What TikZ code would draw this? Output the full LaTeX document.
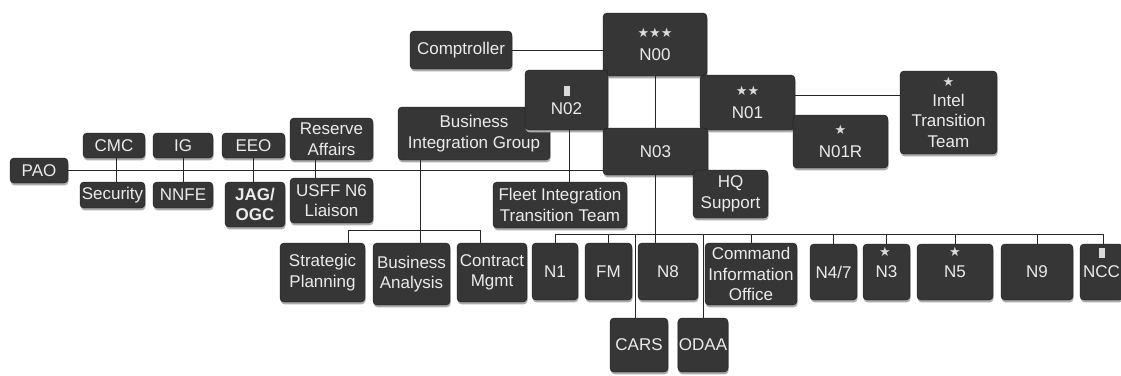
\documentclass[tikz,border=0pt]{standalone}
\usepackage{fontspec}
\setmainfont{Liberation Sans}
\newfontfamily\symfont{DejaVu Sans}
\usetikzlibrary{shadows}
\definecolor{boxfill}{HTML}{363636}
\definecolor{boxedge}{HTML}{161616}
\definecolor{boxtext}{HTML}{EBEBEB}
\definecolor{starcol}{HTML}{DADADA}
\begin{document}
\begin{tikzpicture}[x=1pt,y=-1pt,
  box/.style={draw=boxedge, fill=boxfill, rounded corners=4pt, text=boxtext,
    align=center, inner sep=1pt, font=\fontsize{17}{20.5}\selectfont,
    drop shadow={shadow xshift=0.6pt, shadow yshift=-2.4pt, fill=gray!65, opacity=1}},
  link/.style={draw=black!85, line width=0.9pt},
  starmark/.style={text=starcol, font=\symfont\fontsize{13}{13}\selectfont, inner sep=0pt},
  sz/.style 2 args={minimum width=#1pt, minimum height=#2pt}]
\fill[white] (0,0) rectangle (1121,375);
\path[use as bounding box] (0,0) rectangle (1121,375);
\newcommand{\stars}[1]{{\symfont\fontsize{13}{13}\selectfont\color{starcol}#1}}
\newcommand{\badge}{{\color{starcol}\rule{6pt}{10pt}}}
% top
\node[box, sz={102}{38}] (Comp) at (461,50) {Comptroller};
\node[box, sz={104}{63}] (N00) at (655,44.5) {\stars{★★★}\\[3pt]N00};
\node[box, sz={152}{53}] (BIG) at (474,133.5) {Business\\Integration Group};
\node[box, sz={83}{60}] (N02) at (566.5,100) {\badge\\[-2pt]N02};
\node[box, sz={95}{55}] (N01) at (747.5,102.5) {\stars{★★}\\[2pt]N01};
\node[box, sz={105}{47}] (N03) at (655.5,151.5) {N03};
\node[box, sz={95}{53}] (N01R) at (840.5,141.5) {\stars{★}\\[3pt]N01R};
\node[box, sz={97}{83}] (Intel) at (948.5,112.5) {\stars{★}\\[-1pt]Intel\\Transition\\Team};
\node[box, sz={75}{48}] (HQ) at (730.5,194) {HQ\\Support};
% left
\node[box, sz={58}{25}] (PAO) at (39,170.5) {PAO};
\node[box, sz={62}{25}] (CMC) at (114,145.5) {CMC};
\node[box, sz={65}{26}] (Sec) at (112.5,195) {Security};
\node[box, sz={60}{25}] (IG) at (183,145.5) {IG};
\node[box, sz={60}{26}] (NNFE) at (183,195) {NNFE};
\node[box, sz={63}{25}] (EEO) at (253.5,145.5) {EEO};
\node[box, sz={60}{45}] (JAG) at (255,204.5) {\textbf{JAG/}\\\textbf{OGC}};
\node[box, sz={83}{42}] (Res) at (331.5,139) {Reserve\\Affairs};
\node[box, sz={83}{45}] (USFF) at (331.5,200.5) {USFF N6\\Liaison};
\node[box, sz={134}{46}] (FITT) at (560,205) {Fleet Integration\\Transition Team};
% bottom row
\node[box, sz={85}{59}] (SP) at (322.5,272.5) {Strategic\\Planning};
\node[box, sz={77}{62}] (BA) at (411.5,274) {Business\\Analysis};
\node[box, sz={70}{59}] (CM) at (492,272.5) {Contract\\Mgmt};
\node[box, sz={46}{57}] (N1) at (555,271.5) {N1};
\node[box, sz={47}{57}] (FM) at (608.5,271.5) {FM};
\node[box, sz={60}{57}] (N8) at (668,271.5) {N8};
\node[box, sz={92}{62}] (CIO) at (751,274) {Command\\Information\\Office};
\node[box, sz={47}{56}] (N47) at (833.5,272) {N4/7};
\node[box, sz={47}{56}] (N3) at (886.5,272) {N3};
\node[box, sz={76}{56}] (N5) at (955,272) {N5};
\node[box, sz={72}{56}] (N9) at (1037,272) {N9};
\node[box, sz={43}{56}] (NCC) at (1101.5,272) {NCC};
\node[box, sz={58}{54}] (CARS) at (639,345) {CARS};
\node[box, sz={50}{54}] (ODAA) at (703,345) {ODAA};
% insignia
\node[starmark] (s3) at (885,252) {★};
\node[starmark] (s5) at (955,252) {★};
\node[inner sep=0pt] (bNCC) at (1102,253) {\badge};
% connectors
\draw[link] (Comp.east) -- (Comp.east -| N00.west);
\draw[link] (N00.south) -- (N00.south |- N03.north);
\coordinate (intelY) at (0,95);
\draw[link] (N01.east |- intelY) -- (Intel.west |- intelY);
\draw[link] (PAO.east) -- (PAO.east -| N03.west);
\draw[link] ([xshift=2pt]CMC.south) -- ([xshift=2pt]CMC.south |- Sec.north);
\draw[link] (IG.south) -- (IG.south |- NNFE.north);
\draw[link] (EEO.south) -- (EEO.south |- JAG.north);
\draw[link] ([xshift=-16pt]Res.south) -- ([xshift=-16pt]Res.south |- USFF.north);
\draw[link] ([xshift=2.5pt]N02.south) -- ([xshift=2.5pt]N02.south |- FITT.north);
\coordinate (bigx) at (420,230);
\draw[link] (bigx |- BIG.south) -- (bigx |- BA.north);
\draw[link] ([xshift=25.5pt]SP.north) -- ([xshift=25.5pt]SP.north |- bigx) -- ([xshift=-12pt]CM.north |- bigx) -- ([xshift=-12pt]CM.north);
\coordinate (bus) at (0,234);
\draw[link] (N03.south) -- (N03.south |- N8.north);
\draw[link] (N1.north |- bus) -- ([xshift=1.5pt]NCC.north |- bus);
\foreach \c in {N1,FM,CIO,N47,N3,N5,N9} {\draw[link] (\c.north) -- (\c.north |- bus);}
\draw[link] ([xshift=1.5pt]NCC.north) -- ([xshift=1.5pt]NCC.north |- bus);
\draw[link] ([xshift=-4pt]CARS.north) -- ([xshift=-4pt]CARS.north |- bus);
\draw[link] (ODAA.north) -- (ODAA.north |- bus);
\end{tikzpicture}
\end{document}
